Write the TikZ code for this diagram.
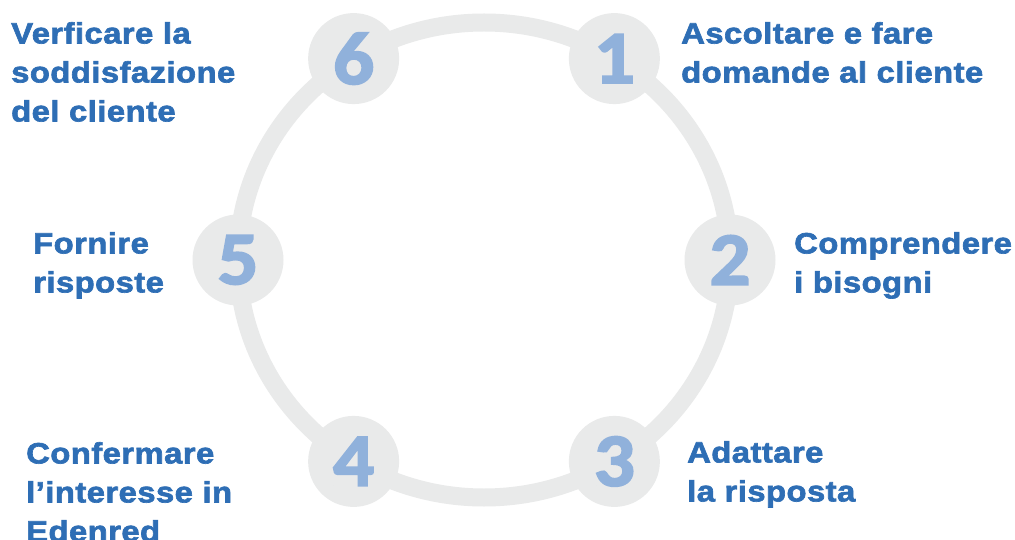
\documentclass[tikz,border=0pt]{standalone}
\usepackage{fontspec}
\setmainfont{Liberation Sans}[BoldFeatures={FakeStretch=1.12,FakeBold=2.2,LetterSpace=1.5}]
\newfontfamily\digitfont{Carlito}[BoldFeatures={FakeBold=2.5,FakeStretch=1.08}]
\definecolor{ringgray}{HTML}{E9EAEA}
\definecolor{numblue}{HTML}{90B1DB}
\definecolor{textblue}{HTML}{2E6EB5}
\begin{document}
\begin{tikzpicture}[x=1pt,y=-1pt,
  stepnum/.style={circle, fill=ringgray, minimum size=91pt, inner sep=0pt,
    text=numblue, font=\digitfont\bfseries\fontsize{75}{75}\selectfont},
  steptext/.style={anchor=north west, inner sep=0pt, align=left,
    text=textblue, font=\bfseries\fontsize{29.3}{39}\selectfont}]
\useasboundingbox[fill=white] (0,0) rectangle (1015,540);

% ring
\draw[ringgray, line width=18pt] (484,260) ellipse [x radius=246, y radius=237.5];

% numbered steps on the ring
\foreach \n/\a in {1/58, 2/0, 3/-58, 4/-122, 5/180, 6/122}
	\node[stepnum] (n\n) at ({484+246*cos(\a)},{260-237.5*sin(\a)}) {\n};

% labels
\node[steptext] (t1) at (681,22) {Ascoltare e fare\\domande al cliente};
\node[steptext] (t2) at (794,232) {Comprendere\\i bisogni};
\node[steptext] (t3) at (687,441) {Adattare\\la risposta};
\node[steptext] (t4) at (26,442) {Confermare\\l’interesse in\\Edenred};
\node[steptext] (t5) at (33,232) {Fornire\\risposte};
\node[steptext] (t6) at (11,22) {Verficare la\\soddisfazione\\del cliente};
\end{tikzpicture}
\end{document}
